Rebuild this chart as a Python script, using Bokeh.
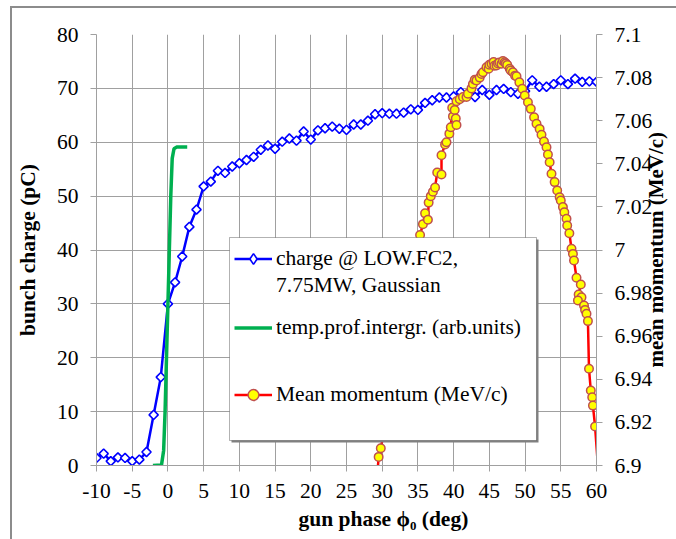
import math
from bokeh.plotting import figure
from bokeh.models import (Range1d, LinearAxis, FixedTicker, CustomJSTickFormatter,
                          Legend, LegendItem, BoxAnnotation, Title)
from bokeh.embed import file_html
from bokeh.resources import INLINE

# ---------------- data ----------------
phase = list(range(-10, 61))
charge = [1.4, 2.2, 0.8, 1.5, 1.4, 0.8, 1.1, 2.5, 9.4, 16.4,
          30.0, 34.0, 38.8, 44.3, 47.5, 51.8, 52.7, 54.7, 54.3, 55.5,
          56.1, 56.7, 57.3, 58.6, 59.4, 58.8, 60.1, 60.7, 60.3, 62.0,
          60.5, 62.2, 62.6, 62.9, 62.5, 62.3, 63.3, 63.3, 64.0, 65.2,
          65.4, 65.3, 65.3, 65.5, 66.1, 66.0, 67.3, 67.8, 68.3, 68.3,
          68.5, 69.3, 69.0, 68.4, 69.7, 68.8, 69.7, 69.9, 69.3, 69.0,
          69.5, 71.5, 70.3, 70.3, 70.8, 71.5, 70.8, 71.8, 71.2, 71.3,
          71.2]

temp_x = [-2.1, -0.9, -0.6, -0.4, -0.2, 0.0, 0.2, 0.4, 0.6, 0.85, 1.2, 2.7]
temp_y = [0.0, 0.1, 2.8, 10.0, 20.0, 30.0, 40.0, 50.0, 57.0, 58.8, 59.1, 59.1]

mom_x = [29.3, 29.5, 29.8, 35.3, 35.7, 36.0, 36.4, 36.5, 36.8, 37.1, 37.4, 37.7, 38.3, 38.3,
         38.8, 39.0, 39.4, 39.6, 39.8, 39.9, 40.15, 40.3, 40.4, 40.4, 40.85, 41.3, 41.8, 42.0,
         42.5, 42.7, 42.95, 43.2, 43.65, 43.9, 44.1, 44.6, 44.9, 45.0, 45.3, 45.6, 45.7, 46.0,
         46.2, 46.4, 46.7, 46.9, 47.15, 47.3, 47.5, 47.85, 48.0, 48.3, 48.6, 48.8, 49.2, 49.6,
         49.95, 50.4, 50.8, 51.26, 51.6, 52.04, 52.3, 52.65, 53.0, 53.2, 53.44, 53.7, 54.14,
         54.5, 54.84, 55.0, 55.3, 55.5, 55.8, 55.9, 56.2, 56.5, 56.7, 56.85, 57.2, 57.8, 57.5,
         57.9, 57.4, 58.25, 58.4, 58.6, 58.8, 58.95, 59.2, 59.4, 59.5, 59.8, 60.3]
mom_y = [6.895, 6.904, 6.908, 7.007, 7.012, 7.017, 7.014, 7.022, 7.025, 7.027, 7.029, 7.036,
         7.035, 7.044, 7.049, 7.050, 7.054, 7.057, 7.066, 7.062, 7.065, 7.061, 7.058, 7.069,
         7.070, 7.071, 7.071, 7.0725, 7.075, 7.077, 7.079, 7.0787, 7.080, 7.0817, 7.0825,
         7.0848, 7.0841, 7.086, 7.0864, 7.0872, 7.0855, 7.0856, 7.0866, 7.087, 7.0864, 7.0877,
         7.0871, 7.0866, 7.0859, 7.0841, 7.0833, 7.0825, 7.0809, 7.0806, 7.0778, 7.0748,
         7.0717, 7.0686, 7.0655, 7.0616, 7.0586, 7.0562, 7.0535, 7.0503, 7.0477, 7.0443,
         7.0407, 7.0354, 7.0315, 7.0276, 7.0245, 7.023, 7.0199, 7.0175, 7.0145, 7.0114,
         7.0078, 7.0006, 6.9982, 6.9951, 6.9871, 6.984, 6.9793, 6.9781, 6.9766, 6.9742,
         6.9722, 6.9704, 6.967, 6.9449, 6.9348, 6.9317, 6.9278, 6.9181, 6.895]

x_ticks = list(range(-10, 61, 5))
left_ticks = list(range(0, 81, 10))
right_ticks = [6.9, 6.92, 6.94, 6.96, 6.98, 7.0, 7.02, 7.04, 7.06, 7.08, 7.1]

label_charge = ["charge @ LOW.FC2,", "7.75MW, Gaussian"]
label_temp = "temp.prof.intergr. (arb.units)"
label_mom = "Mean momentum (MeV/c)"
title_left = "bunch charge (pC)"
title_right = "mean momentum (MeV/c)"
title_bottom = "gun phase \u03d5\u2080 (deg)"

# ---------------- styling ----------------
FONT = "Liberation Serif"
FS = "21.5px"
GRID = "#a0a0a0"
FRAME_H = 431

p = figure(frame_width=500, frame_height=FRAME_H,
           min_border_left=83, min_border_right=81, min_border_top=26, min_border_bottom=74,
           x_range=Range1d(-10, 60), y_range=Range1d(0, 80),
           output_backend="svg", toolbar_location=None,
           background_fill_color="white", border_fill_color="white")
p.outline_line_color = None
p.styles = {"margin-left": "10px", "margin-top": "6px",
            "border-left": "2px solid #8c8c8c", "border-top": "2px solid #8c8c8c"}
mom_range = Range1d(6.9, 7.1)
p.extra_y_ranges = {"mom": mom_range}

right_axis = LinearAxis(y_range_name="mom", ticker=FixedTicker(ticks=right_ticks),
                        formatter=CustomJSTickFormatter(code="return (Math.round(tick*100)/100).toString();"))
p.add_layout(right_axis, "right")

p.xaxis.ticker = FixedTicker(ticks=x_ticks)
p.xaxis.formatter = CustomJSTickFormatter(code="return tick.toString();")
p.yaxis[0].ticker = FixedTicker(ticks=left_ticks)
p.xgrid.ticker = FixedTicker(ticks=x_ticks)
p.ygrid.ticker = FixedTicker(ticks=left_ticks)
for g in (p.xgrid, p.ygrid):
    g.grid_line_color = GRID
    g.grid_line_width = 1

for ax in (p.xaxis[0], p.yaxis[0], right_axis):
    ax.axis_line_color = GRID
    ax.axis_line_width = 1
    ax.major_tick_line_color = GRID
    ax.major_tick_out = 6
    ax.major_tick_in = 0
    ax.minor_tick_line_color = None
    ax.major_label_text_font = FONT
    ax.major_label_text_font_size = FS
    ax.major_label_text_color = "black"
    ax.major_label_standoff = 12

ly = p.yaxis[0]
ly.axis_label = title_left
ly.axis_label_text_font = FONT
ly.axis_label_text_font_size = FS
ly.axis_label_text_font_style = "bold"
ly.axis_label_text_color = "black"
ly.axis_label_standoff = 14

# right-hand title: drawn as the single rotated label of a bare second right axis,
# read bottom-to-top; the label starts 98 px below the top edge of the label's end
title_anchor = mom_range.start + (mom_range.end - mom_range.start) * 98 / FRAME_H
title_axis = LinearAxis(y_range_name="mom", ticker=FixedTicker(ticks=[title_anchor]),
                        formatter=CustomJSTickFormatter(args=dict(t=title_right), code="return t;"),
                        major_label_orientation=math.pi / 2,
                        axis_line_color=None, major_tick_line_color=None, minor_tick_line_color=None,
                        major_tick_out=0, major_tick_in=0, major_label_standoff=0,
                        major_label_text_font=FONT, major_label_text_font_size="21px",
                        major_label_text_font_style="bold", major_label_text_color="black")
p.add_layout(title_axis, "right")

p.add_layout(Title(text=title_bottom, align="left", offset=202, standoff=8, vertical_align="bottom",
                   text_font=FONT, text_font_size=FS, text_font_style="bold",
                   text_color="black"), "below")

# ---------------- series ----------------
blue_line = p.line(phase, charge, line_color="#0000ff", line_width=2.5)
blue_pts = p.scatter(phase, charge, marker="square", angle=math.pi / 4, size=6.5,
                     fill_color="white", line_color="#0000ff", line_width=1.6)
green_line = p.line(temp_x, temp_y, line_color="#00b050", line_width=3.5)
red_line = p.line(mom_x, mom_y, y_range_name="mom", line_color="#ff0000", line_width=2.5)
red_pts = p.scatter(mom_x, mom_y, y_range_name="mom", marker="circle", size=8.5,
                    fill_color="#ffff00", line_color="#c0504d", line_width=1.5)
# legend-only glyphs (a single NaN point, never drawn in the plot)
nan = float("nan")
blank = p.line(x=[nan], y=[nan], line_alpha=0)
legend_diamond = p.scatter(x=[nan], y=[nan], marker="diamond", fill_color="white",
                           line_color="#0000ff", line_width=1.6)

# ---------------- legend box ----------------
shadow = BoxAnnotation(left=135, right=442, top=226, bottom=23,
                       left_units="screen", right_units="screen", top_units="screen", bottom_units="screen",
                       fill_color="#808080", fill_alpha=1, line_alpha=0)
box = BoxAnnotation(left=133, right=440, top=228, bottom=25,
                    left_units="screen", right_units="screen", top_units="screen", bottom_units="screen",
                    fill_color="white", fill_alpha=1, line_color="black", line_width=1)
p.add_layout(shadow)
p.add_layout(box)


def mk_legend(items, loc):
    lg = Legend(items=items, location=loc, orientation="vertical", padding=0, margin=0, spacing=0,
                glyph_width=38, glyph_height=27, label_height=27, label_standoff=4,
                label_text_font=FONT, label_text_font_size=FS, label_text_color="black",
                background_fill_alpha=0, border_line_alpha=0)
    p.add_layout(lg)
    return lg


mk_legend([LegendItem(label=label_charge[0], renderers=[blue_line, legend_diamond]),
           LegendItem(label=label_charge[1], renderers=[blank])], (138, 166))
mk_legend([LegendItem(label=label_temp, renderers=[green_line])], (138, 124))
mk_legend([LegendItem(label=label_mom, renderers=[red_line, red_pts])], (138, 57))

open("out.html", "w").write(file_html(p, INLINE))
